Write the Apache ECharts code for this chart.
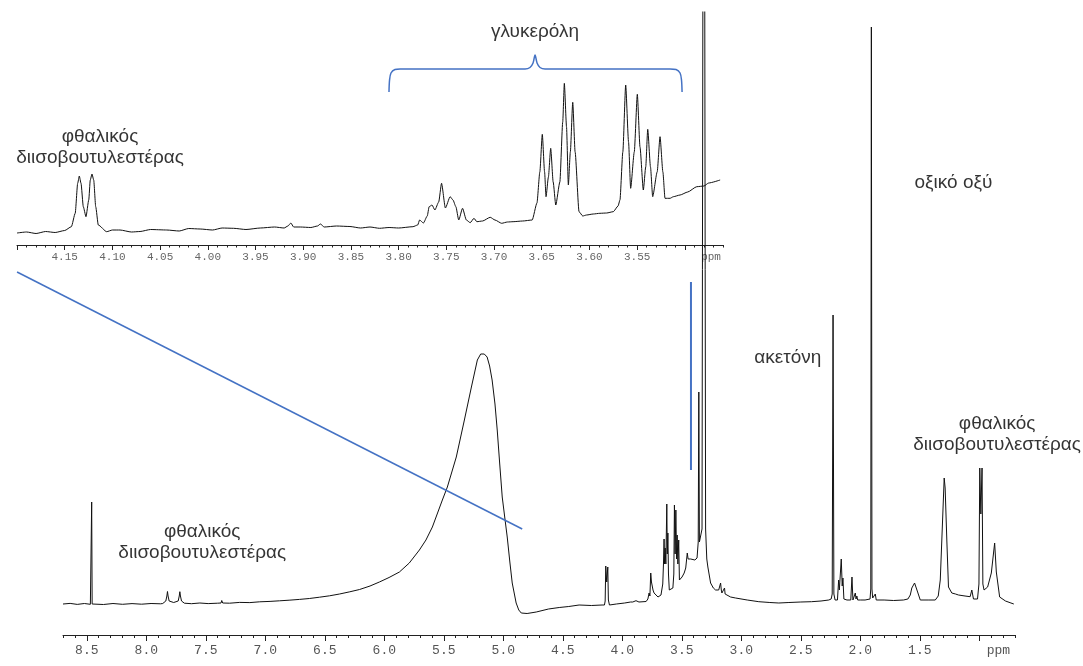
<!DOCTYPE html>
<html><head><meta charset="utf-8">
<script src="https://cdn.jsdelivr.net/npm/echarts@6/dist/echarts.min.js"></script>
<style>html,body{margin:0;padding:0;background:#fff}#c{width:1083px;height:666px}</style>
</head><body><div id="c"></div>
<script>
// ---- tick labels ----
const mainTickLabels = ['8.5','8.0','7.5','7.0','6.5','6.0','5.5','5.0','4.5','4.0','3.5','3.0','2.5','2.0','1.5'];
const mainMajorTicks = [8.5,8.0,7.5,7.0,6.5,6.0,5.5,5.0,4.5,4.0,3.5,3.0,2.5,2.0,1.5,1.0];
const mainUnitAt = 0.839;
const insetTickLabels = ['4.15','4.10','4.05','4.00','3.95','3.90','3.85','3.80','3.75','3.70','3.65','3.60','3.55'];
const insetMajorTicks = [4.20,4.15,4.10,4.05,4.00,3.95,3.90,3.85,3.80,3.75,3.70,3.65,3.60,3.55,3.50];
const insetUnitAt = 3.4725;

// ---- main spectrum [ppm, intensity] ----
const mainSpectrum = [
[8.70,0],[8.64,0.6],[8.58,-0.4],[8.52,0.5],[8.47,-0.3],[8.463,0],[8.459,102],[8.455,0],[8.44,0.4],[8.36,-0.5],[8.28,0.5],[8.20,-0.3],[8.12,0.4],[8.04,-0.2],[7.96,0.5],[7.88,0.2],
[7.862,0.5],[7.836,3],[7.827,8],[7.822,12.5],[7.817,8],[7.808,3],[7.77,1.5],[7.732,3],[7.723,8],[7.718,12.3],[7.713,8],[7.704,3],[7.68,0.8],
[7.62,0.3],[7.55,1],[7.48,0.4],[7.40,0.8],[7.372,1],[7.366,3.5],[7.358,1],[7.30,0.8],[7.215,1.6],[7.13,1.4],[7.047,2.2],[6.96,2.6],[6.880,3.2],[6.80,3.8],[6.712,4.6],[6.63,5.5],[6.544,6.8],[6.46,8.2],[6.376,10],[6.29,12.2],[6.208,14.5],[6.12,18],[6.041,22],[5.96,26.5],[5.873,32],[5.79,41],[5.705,54],[5.65,64],[5.596,77],[5.512,104],[5.470,117],[5.395,147],[5.327,184],[5.268,217],[5.218,244],[5.19,250],[5.177,251],[5.16,250],[5.136,247],[5.115,238],[5.094,224],[5.07,200],[5.051,174],[5.03,140],[5.009,107],[4.985,84],[4.967,67],[4.945,42],[4.925,21],[4.892,1],[4.87,-6],[4.849,-9],[4.80,-9.5],[4.723,-8],[4.62,-5],[4.530,-3.5],[4.45,-2.5],[4.363,-1],[4.26,-1.5],[4.170,-1],
[4.150,-1],[4.144,3],[4.139,38],[4.131,22],[4.122,37],[4.117,4],[4.108,-1],
[4.05,0],[3.98,1],[3.93,2],[3.918,4],[3.912,2],[3.885,3.3],[3.86,2],[3.80,2.5],
[3.785,5],[3.775,11],[3.768,8],[3.761,31],[3.755,22],[3.750,24],[3.742,14],[3.733,11],[3.719,9],[3.70,7],[3.691,7.3],[3.675,9],[3.666,11],[3.660,20],
[3.654,40],[3.649,65],[3.645,40],[3.640,56],[3.634,40],[3.626,100],[3.622,50],[3.617,71],[3.612,30],[3.605,14],[3.590,13],[3.575,16],[3.567,30],[3.562,99],[3.556,50],[3.550,94],[3.544,45],[3.539,69],[3.533,40],[3.526,64],[3.520,24],[3.510,24],[3.498,27],[3.48,31],[3.467,36],[3.454,51],[3.447,45],[3.440,44],[3.425,45],[3.412,45],[3.390,44],[3.372,46],[3.362,62],[3.357,212],[3.352,62],[3.340,64],[3.330,75],[3.315,1200],[3.300,75],[3.290,45],[3.281,37],[3.272,38],[3.258,21],[3.235,16],[3.216,14],[3.19,14],[3.180,16],[3.174,21],[3.168,14],[3.163,11],[3.152,10],[3.141,16],[3.136,10],[3.132,9],[3.09,7],[3.048,6],[2.95,4],[2.853,2.3],[2.76,1.5],[2.685,1],[2.60,1.5],[2.50,2],[2.41,2.3],[2.405,4],[2.40,2.3],[2.33,3],[2.265,4],
[2.245,5],[2.236,10],[2.229,289],[2.222,10],[2.212,4],
[2.192,4],[2.182,24],[2.176,14],[2.160,45],[2.152,18],[2.146,26],[2.138,5],[2.112,4],[2.080,4],[2.070,27],[2.062,4],[2.048,5],[2.042,11],[2.036,5],[2.029,8],[2.022,4],[2.000,4],[1.96,4],
[1.918,5],[1.912,15],[1.907,577],[1.902,15],[1.896,6],[1.874,10],[1.866,4],[1.80,4],[1.72,3.5],[1.637,4],[1.60,5],[1.58,9],[1.567,16],[1.544,21],[1.524,14],[1.496,4],[1.43,4],[1.370,4],[1.345,8],[1.328,24],[1.315,64],[1.295,126],[1.287,116],[1.273,64],[1.259,17],[1.231,11],[1.20,10],[1.175,9],[1.12,8],[1.077,7.3],[1.063,14],[1.049,5],[1.015,5],[1.003,20],[0.996,136],[0.987,90],[0.977,136],[0.970,20],[0.960,14],[0.930,17],[0.899,31],[0.871,61],[0.857,32],[0.829,7],[0.78,3],[0.734,1],[0.71,0]
];

// ---- inset spectrum [ppm, intensity] ----
const insetSpectrum = [
[4.200,-1],[4.19,0],[4.18,-1.5],[4.17,0.5],[4.160,-0.5],[4.150,1.5],[4.143,5.3],[4.139,18.7],[4.1364,48.7],[4.1347,56],[4.1329,48.7],[4.1305,25.3],[4.1277,15.3],[4.1248,32],[4.1232,52],[4.1214,58],[4.1196,52],[4.1175,25.3],[4.1148,7],[4.106,0.3],[4.10,2],[4.092,2],[4.08,0],[4.071,0.5],[4.06,2.5],[4.043,2],[4.03,1],[4.02,3.5],[4.008,3],[3.995,2],[3.985,4],[3.973,3.7],[3.96,2.5],[3.945,4],[3.93,5],[3.92,4],[3.916,6],[3.913,9],[3.910,5],[3.903,5],[3.892,4.5],[3.885,6],[3.882,8],[3.878,5],[3.865,6],[3.851,5.5],[3.84,4],[3.83,5],[3.820,3.7],[3.81,4.5],[3.80,4],[3.785,5.3],[3.780,7],[3.778,12],[3.774,9],[3.770,16],[3.768,25.3],[3.765,27],[3.762,22],[3.758,30],[3.755,48.7],[3.751,24],[3.746,35.3],[3.743,32],[3.740,25.3],[3.737,12],[3.733,23.7],[3.729,12],[3.725,9.3],[3.721,13.7],[3.718,10.3],[3.712,11],[3.704,14.7],[3.699,12],[3.692,8.7],[3.686,10],[3.680,10.3],[3.670,11],[3.660,12],[3.655,29],
[3.652,60],[3.6494,97.7],[3.647,60],[3.6455,35.3],[3.643,55],[3.6406,83.7],[3.638,50],[3.6353,27],[3.631,50],[3.628,110],[3.6263,148.7],[3.624,105],[3.6221,47],[3.620,80],[3.6175,129.7],[3.615,80],[3.6109,20.3],[3.607,16],[3.603,17],[3.596,18],[3.589,18.7],[3.582,19],[3.575,20.3],[3.570,26],[3.568,32],[3.565,80],[3.5620,147],[3.559,90],[3.5568,43.7],[3.553,80],[3.5498,137.7],[3.547,85],[3.5435,42],[3.541,65],[3.5389,102.7],[3.536,65],[3.5337,35.3],[3.529,60],[3.5260,95.3],[3.523,60],[3.5208,33.7],[3.5155,33.7],[3.512,35.3],[3.505,37],[3.497,40],[3.4875,45.3],[3.480,46],[3.475,49],[3.463,52]
];

// ---- annotation shapes (in data units of their grids) ----
const zoomLinkLeft = [[9.086,332],[4.841,75]];
const zoomLinkRight = [[3.423,322],[3.423,134]];
const bracket = [[3.8101,140],[3.8095,152],[3.8080,159],[3.8038,162.5],[3.7985,163],[3.6675,163],[3.6623,164.5],[3.6591,169],[3.6570,177],[3.6549,169],[3.6518,164.5],[3.6465,163],[3.5155,163],[3.5092,162.5],[3.5050,159],[3.5035,152],[3.5029,140]];

// ---- text notes ----
const mainNotes = [
  {name:'ακετόνη', value:[2.609,246]},
  {name:'οξικό οξύ', value:[1.217,421]},
  {name:'φθαλικός\nδιισοβουτυλεστέρας', value:[0.850,170]},
  {name:'φθαλικός\nδιισοβουτυλεστέρας', value:[7.53,62]}
];
const insetNotes = [
  {name:'γλυκερόλη', value:[3.657,200]},
  {name:'φθαλικός\nδιισοβουτυλεστέρας', value:[4.113,85]}
];

const BLUE = '#4472C4';
const noteLabel = {show:true, position:'inside', formatter:'{b}', color:'#000', fontFamily:'Liberation Sans', fontSize:19, lineHeight:21, align:'center', verticalAlign:'middle'};

const chart = echarts.init(document.getElementById('c'), null, {renderer:'canvas'});
chart.setOption({
  animation:false,
  backgroundColor:'#fff',
  grid:[
    {left:63, width:952, top:12, height:623, outerBoundsMode:'none'},
    {left:17, width:706, top:32, height:213, outerBoundsMode:'none'}
  ],
  xAxis:[
    {gridIndex:0, type:'value', position:'bottom', inverse:true, min:0.7, max:8.7, splitLine:{show:false},
     axisLine:{show:true, onZero:false, lineStyle:{color:'#222', width:1}},
     axisTick:{show:true, customValues:mainMajorTicks, length:6, lineStyle:{color:'#222'}},
     axisLabel:{show:true, customValues:mainTickLabels.map(Number).concat([mainUnitAt]), margin:9,
       formatter:v => v === mainUnitAt ? 'ppm' : v.toFixed(1),
       fontFamily:'Liberation Mono', fontSize:13, color:'#555'}},
    {gridIndex:0, type:'value', position:'bottom', inverse:true, min:0.7, max:8.7, interval:0.1, splitLine:{show:false},
     axisLine:{show:false, onZero:false}, axisTick:{show:true, length:3, lineStyle:{color:'#222'}}, axisLabel:{show:false}},
    {gridIndex:1, type:'value', position:'bottom', inverse:true, min:3.46, max:4.20, splitLine:{show:false},
     axisLine:{show:true, onZero:false, lineStyle:{color:'#222', width:1}},
     axisTick:{show:true, customValues:insetMajorTicks, length:5, lineStyle:{color:'#222'}},
     axisLabel:{show:true, customValues:insetTickLabels.map(Number).concat([insetUnitAt]), margin:7,
       formatter:v => v === insetUnitAt ? 'ppm' : v.toFixed(2),
       fontFamily:'Liberation Mono', fontSize:11, color:'#666'}},
    {gridIndex:1, type:'value', position:'bottom', inverse:true, min:3.46, max:4.20, interval:0.01, splitLine:{show:false},
     axisLine:{show:false, onZero:false}, axisTick:{show:true, length:2.5, lineStyle:{color:'#222'}}, axisLabel:{show:false}}
  ],
  yAxis:[
    {gridIndex:0, type:'value', min:-31, max:592, show:false},
    {gridIndex:1, type:'value', min:-13, max:200, show:false}
  ],
  series:[
    {type:'line', name:'inset', xAxisIndex:2, yAxisIndex:1, data:insetSpectrum, symbol:'none', z:3,
     smooth:0.2, smoothMonotone:'x', lineStyle:{color:'#111', width:1}},
    {type:'line', name:'main', xAxisIndex:0, yAxisIndex:0, data:mainSpectrum, symbol:'none', z:4,
     lineStyle:{color:'#111', width:1}},
    {type:'line', name:'link2', xAxisIndex:0, yAxisIndex:0, data:zoomLinkRight, symbol:'none', clip:false, z:5,
     lineStyle:{color:BLUE, width:2}},
    {type:'line', name:'bracket', xAxisIndex:2, yAxisIndex:1, data:bracket, symbol:'none', clip:false, smooth:0.3, z:5,
     lineStyle:{color:BLUE, width:1.5}},
    {type:'scatter', name:'notesMain', xAxisIndex:0, yAxisIndex:0, data:mainNotes, symbolSize:0, clip:false, label:noteLabel, z:6},
    {type:'scatter', name:'notesInset', xAxisIndex:2, yAxisIndex:1, data:insetNotes, symbolSize:0, clip:false, label:noteLabel, z:6}
  ]
});
// zoom link from the inset corner down to the main spectrum, placed through the main axes' scales
const a = chart.convertToPixel({xAxisIndex:0, yAxisIndex:0}, zoomLinkLeft[0]);
const b = chart.convertToPixel({xAxisIndex:0, yAxisIndex:0}, zoomLinkLeft[1]);
chart.setOption({graphic:[{type:'line', z:5, shape:{x1:a[0], y1:a[1], x2:b[0], y2:b[1]}, style:{stroke:BLUE, lineWidth:1.5}}]});
</script>
</body></html>
